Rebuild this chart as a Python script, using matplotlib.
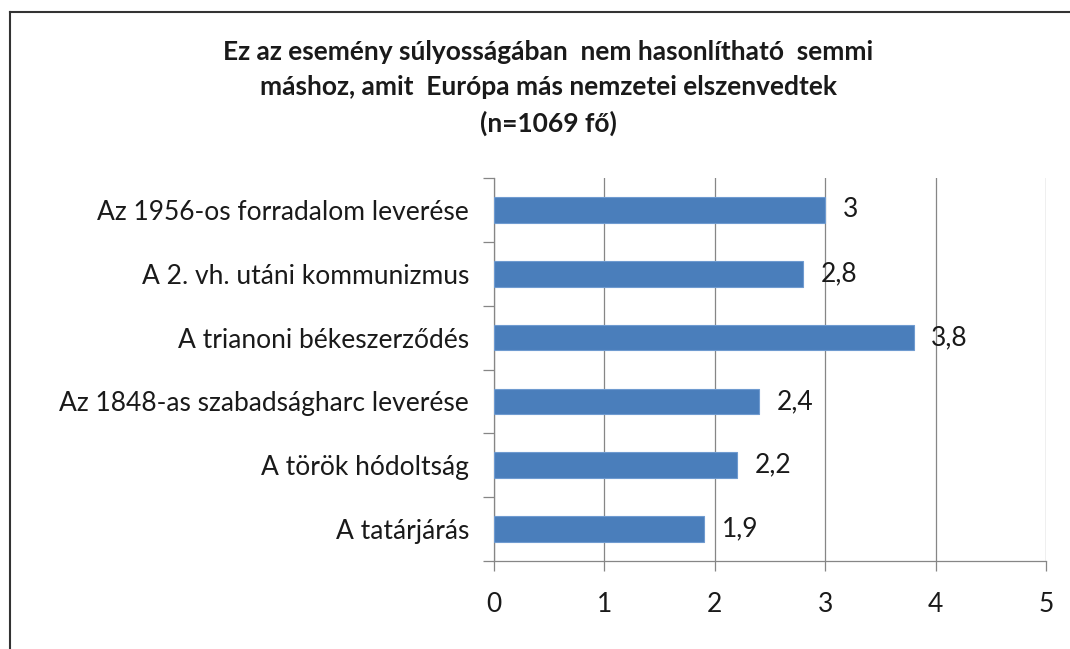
import numpy as np
import matplotlib.pyplot as plt
from matplotlib.lines import Line2D

categories = [
    "Az 1956-os forradalom leverése",
    "A 2. vh. utáni kommunizmus",
    "A trianoni békeszerződés",
    "Az 1848-as szabadságharc leverése",
    "A török hódoltság",
    "A tatárjárás",
]
values = [3.0, 2.8, 3.8, 2.4, 2.2, 1.9]
value_labels = ["3", "2,8", "3,8", "2,4", "2,2", "1,9"]
xticks = [0, 1, 2, 3, 4, 5]

title = ("Ez az esemény súlyosságában  nem hasonlítható  semmi\n"
         "máshoz, amit  Európa más nemzetei elszenvedtek\n"
         "(n=1069 fő)")

plt.rcParams['font.family'] = ['Lato', 'DejaVu Sans']
grid_c = "#868686"
text_c = "#1a1a1a"
fs = 19

fig = plt.figure(figsize=(10.7, 6.49), dpi=100)
ax = fig.add_axes([494/1070, 1-561/649, (1046-494)/1070, (561-178)/649])

y = np.arange(len(categories))
ax.barh(y, values, height=0.4, color="#4a7ebb", edgecolor="#6f9bd0", linewidth=0.8, zorder=3)

for yi, v, lab in zip(y, values, value_labels):
    ax.text(v + 0.16, yi, lab, va="center", ha="left", fontsize=fs, color=text_c)

ax.set_xlim(0, 5)
ax.set_ylim(len(categories) - 0.5, -0.5)
ax.set_xticks(xticks)
ax.set_xticklabels([str(t) for t in xticks])
ax.xaxis.grid(True, color=grid_c, linewidth=0.9, zorder=0)

ax.set_yticks(y)
ax.set_yticklabels(categories)
ax.set_yticks(np.arange(-0.5, len(categories)), minor=True)
ax.tick_params(axis="y", which="major", length=0, pad=18, labelsize=fs, labelcolor=text_c)
ax.tick_params(axis="y", which="minor", length=8, width=0.9, color=grid_c, direction="out")
ax.tick_params(axis="x", length=7.5, width=0.9, color=grid_c, pad=15, labelsize=fs, labelcolor=text_c)

for s in ["top", "right"]:
    ax.spines[s].set_visible(False)
for s in ["left", "bottom"]:
    ax.spines[s].set_color(grid_c)
    ax.spines[s].set_linewidth(0.9)

fig.text(548/1070, 1-88/649, title, ha="center", va="center", fontsize=fs,
         fontweight="bold", color=text_c, linespacing=1.55)

# chart area border (top and left visible in the crop)
fig.add_artist(Line2D([10/1070, 10/1070], [0, 1-12/649], color="#333333", linewidth=1.5,
                      transform=fig.transFigure))
fig.add_artist(Line2D([10/1070, 1], [1-12/649, 1-12/649], color="#333333", linewidth=1.5,
                      transform=fig.transFigure))

fig.savefig("out.png", dpi=100)
plt.close(fig)
